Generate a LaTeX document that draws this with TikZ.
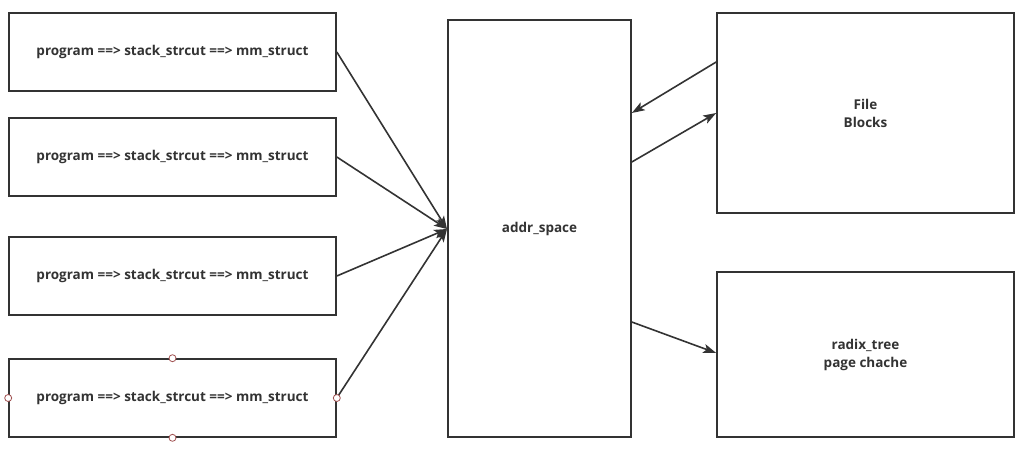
\documentclass[tikz,border=0pt]{standalone}
\usepackage{fontspec}
\setmainfont{Open Sans}
\usetikzlibrary{arrows.meta}
\definecolor{inkgray}{HTML}{333333}
\definecolor{handlered}{HTML}{A05050}
\begin{document}
\begin{tikzpicture}[x=1pt,y=-1pt,
  box/.style={draw=inkgray, line width=1.6pt, fill=white, inner sep=0pt,
    align=center, text=inkgray, font=\bfseries\fontsize{13.5}{18}\selectfont},
  link/.style={draw=inkgray, line width=1.6pt, -{Stealth[length=13pt,width=9pt,inset=3pt]}},
  handle/.style={draw=handlered, fill=white, circle, inner sep=0pt, minimum size=7pt, line width=0.8pt}]
\useasboundingbox (0,0) rectangle (1033,474);
\newcommand\progbox[2]{
\node[box, minimum width=327pt, minimum height=78pt] (#1) at (172.5,#2) {program ==> stack\_strcut ==> mm\_struct};
}

\progbox{p1}{52}
\progbox{p2}{157}
\progbox{p3}{276}
\progbox{p4}{398}

\node[box, minimum width=183pt, minimum height=417pt] (addr) at (539.5,228.5) {addr\_space};
\node[box, minimum width=297pt, minimum height=200pt] (file) at (865.5,113) {File\\Blocks};
\node[box, minimum width=297pt, minimum height=165pt] (radix) at (865.5,354.5) {radix\_tree\\page chache};

\coordinate (hub) at (447,229);
\path[link] (p1.east) -- (hub);
\path[link] (p2.east) -- (hub);
\path[link] (p3.east) -- (hub);
\path[link] (p4.east) -- (hub);

\path[link] ([yshift=51pt]file.west) -- ([yshift=115.5pt]addr.east);
\path[link] ([yshift=66.5pt]addr.east) -- (file.west);
\path[link] ([yshift=-93.5pt]addr.east) -- ([yshift=1.5pt]radix.west);

% selection handles
\node[handle] (h1) at (p4.north) {};
\node[handle] (h2) at (p4.west) {};
\node[handle] (h3) at (p4.east) {};
\node[handle] (h4) at (p4.south) {};
\end{tikzpicture}
\end{document}
